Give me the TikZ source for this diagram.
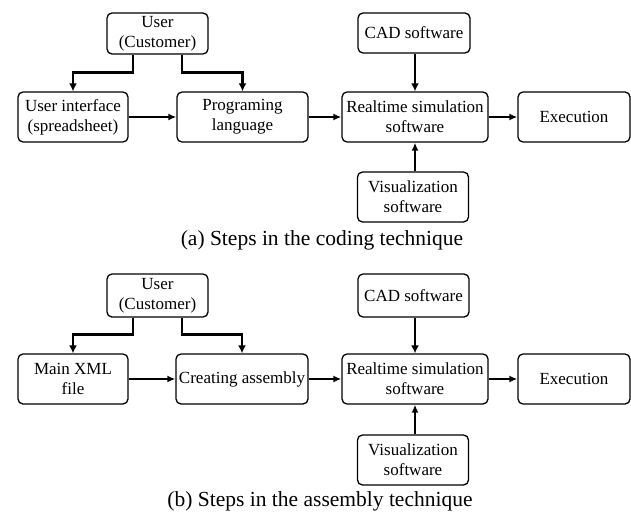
\documentclass[tikz,border=0pt]{standalone}
\usepackage{fontspec}
\setmainfont{Liberation Serif}
\usetikzlibrary{arrows.meta,calc}
\begin{document}
\begin{tikzpicture}[x=1pt,y=-1pt,
  box/.style={draw,line width=1.3pt,rounded corners=5pt,inner sep=0pt,align=center,
    font=\fontsize{17}{20}\selectfont},
  arr/.style={line width=1.6pt,-{Latex[length=8pt,width=7pt]}},
  tarr/.style={line width=2.4pt,-{Latex[length=8pt,width=8pt]}},
  captext/.style={font=\fontsize{21.5}{24}\selectfont,anchor=base,inner sep=0pt}]
\useasboundingbox (0,0) rectangle (631,511);
% (a)
\node[box,minimum width=101pt,minimum height=41pt] (ua) at (157.5,33.5) {User\\(Customer)};
\node[box,minimum width=110pt,minimum height=50pt] (uia) at (73,117) {User interface\\(spreadsheet)};
\node[box,minimum width=131pt,minimum height=50pt] (pla) at (242.5,117) {Programing\\language};
\node[box,minimum width=146pt,minimum height=50pt] (rta) at (415,117) {Realtime simulation\\software};
\node[box,minimum width=112pt,minimum height=50pt] (exa) at (574,117) {Execution};
\node[box,minimum width=112pt,minimum height=40pt] (cada) at (414,33) {CAD software};
\node[box,minimum width=111pt,minimum height=50pt] (visa) at (413,197) {Visualization\\software};
\node[captext] (capa) at (322,245) {(a) Steps in the coding technique};
\draw[tarr] ([xshift=-24.5pt]ua.south) -- ++(0,18) -| (uia.north);
\draw[tarr] ([xshift=24.5pt]ua.south) -- ++(0,18) -| (pla.north);
\draw[arr] (uia.east) -- (pla.west);
\draw[arr] (pla.east) -- (rta.west);
\draw[arr] (rta.east) -- (exa.west);
\draw[tarr] ([xshift=1pt]cada.south) -- ([xshift=1pt]cada.south |- rta.north);
\draw[arr] ([xshift=2pt]visa.north) -- ([xshift=2pt]visa.north |- rta.south);
% (b)
\node[box,minimum width=101pt,minimum height=43pt] (ub) at (157.5,295.5) {User\\(Customer)};
\node[box,minimum width=110pt,minimum height=50pt] (mxb) at (73,379) {Main XML\\file};
\node[box,minimum width=132pt,minimum height=50pt] (cab) at (242,379) {Creating assembly};
\node[box,minimum width=146pt,minimum height=50pt] (rtb) at (415,379) {Realtime simulation\\software};
\node[box,minimum width=112pt,minimum height=50pt] (exb) at (574,379) {Execution};
\node[box,minimum width=111pt,minimum height=43pt] (cadb) at (413.5,295.5) {CAD software};
\node[box,minimum width=111pt,minimum height=50pt] (visb) at (413,460) {Visualization\\software};
\node[captext] (capb) at (320,506) {(b) Steps in the assembly technique};
\draw[tarr] ([xshift=-24.5pt]ub.south) -- ++(0,17) -| (mxb.north);
\draw[tarr] ([xshift=24.5pt]ub.south) -- ++(0,17) -| (cab.north);
\draw[arr] (mxb.east) -- (cab.west);
\draw[arr] (cab.east) -- (rtb.west);
\draw[arr] (rtb.east) -- (exb.west);
\draw[tarr] ([xshift=1.5pt]cadb.south) -- ([xshift=1.5pt]cadb.south |- rtb.north);
\draw[arr] ([xshift=2pt]visb.north) -- ([xshift=2pt]visb.north |- rtb.south);
\end{tikzpicture}
\end{document}
